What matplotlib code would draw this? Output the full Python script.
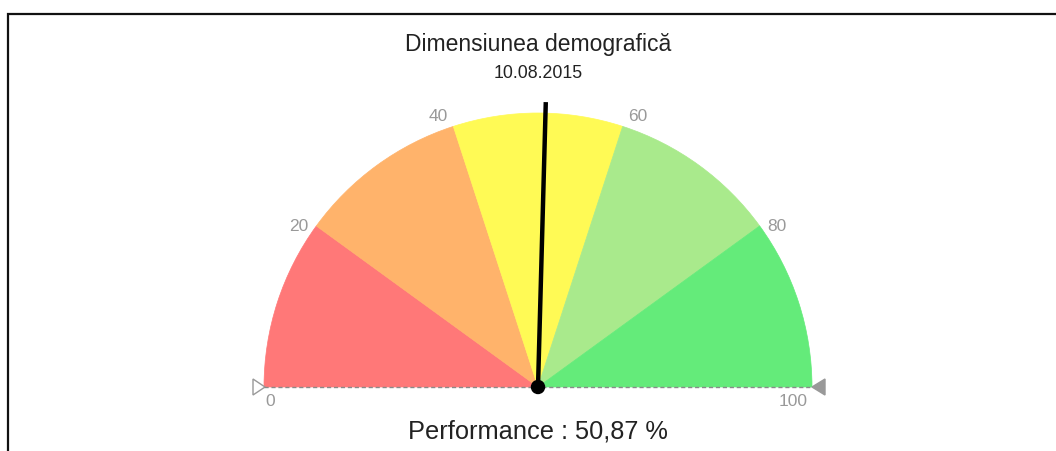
import numpy as np
import matplotlib.pyplot as plt
from matplotlib.patches import Wedge, Circle, Polygon

plt.rcParams['font.family'] = ['Liberation Sans', 'DejaVu Sans']

# ----------------------
# DATA
# ----------------------
title = "Dimensiunea demografică"
date_label = "10.08.2015"
value = 50.87
value_text = "Performance : 50,87 %"
band_edges = [0, 20, 40, 60, 80, 100]
band_colors = ['#ff7878', '#ffb36b', '#fffa55', '#a9ea8c', '#64eb7a']
tick_values = [0, 20, 40, 60, 80, 100]

# ----------------------
# LAYOUT (pixel coordinates, y up)
# ----------------------
W, H = 1056, 451
CX, CY, R = 538, 64, 274
NEEDLE_LEN = 285


def to_angle(v):
    # gauge runs 0..100 over a half circle, left to right
    return 180.0 - v * 180.0 / 100.0


fig = plt.figure(figsize=(W / 100, H / 100), dpi=100)
ax = fig.add_axes([0, 0, 1, 1])
ax.set_xlim(0, W)
ax.set_ylim(0, H)
ax.axis('off')

# frame around the chart
ax.plot([8, 8, W + 5], [-5, H - 14, H - 14], color='#111111', lw=1.6,
        solid_joinstyle='miter')

# colour bands
for a, b, c in zip(band_edges[:-1], band_edges[1:], band_colors):
    ax.add_patch(Wedge((CX, CY), R, to_angle(b), to_angle(a), facecolor=c,
                       edgecolor=c, lw=0.5))

# base line with end markers
ax.plot([CX - R, CX + R], [CY, CY], color='#8a8a8a', lw=1, ls=(0, (3, 2)), zorder=3)
ax.add_patch(Polygon([[CX - R - 11, CY + 8], [CX - R - 11, CY - 8], [CX - R + 1, CY]],
                     closed=True, facecolor='white', edgecolor='#999999', lw=1))
ax.add_patch(Polygon([[CX + R + 13, CY + 8], [CX + R + 13, CY - 8], [CX + R, CY]],
                     closed=True, facecolor='#999999', edgecolor='#999999', lw=1))

# tick labels
for v in tick_values:
    if v == 0:
        ax.text(CX - R + 6, CY - 14, str(v), ha='center', va='center',
                fontsize=12.5, color='#999999')
    elif v == 100:
        ax.text(CX + R - 19, CY - 14, str(v), ha='center', va='center',
                fontsize=12.5, color='#999999')
    else:
        th = np.radians(to_angle(v) + (2.2 if v < 50 else -2.2))
        ax.text(CX + 288 * np.cos(th), CY + 288 * np.sin(th), str(v),
                ha='center', va='center', fontsize=12.5, color='#999999')

# needle
th = np.radians(to_angle(value))
ax.plot([CX, CX + NEEDLE_LEN * np.cos(th)], [CY, CY + NEEDLE_LEN * np.sin(th)],
        color='black', lw=3.2, solid_capstyle='butt', zorder=4)
ax.add_patch(Circle((CX, CY), 6.5, color='black', zorder=5))

# texts
ax.text(CX, H - 45, title, ha='center', va='center', fontsize=16.5, color='#222222')
ax.text(CX, H - 73, date_label, ha='center', va='center', fontsize=12.8, color='#222222')
ax.text(CX, H - 431, value_text, ha='center', va='center', fontsize=18.3, color='#222222')

fig.savefig("out.png", dpi=100)
